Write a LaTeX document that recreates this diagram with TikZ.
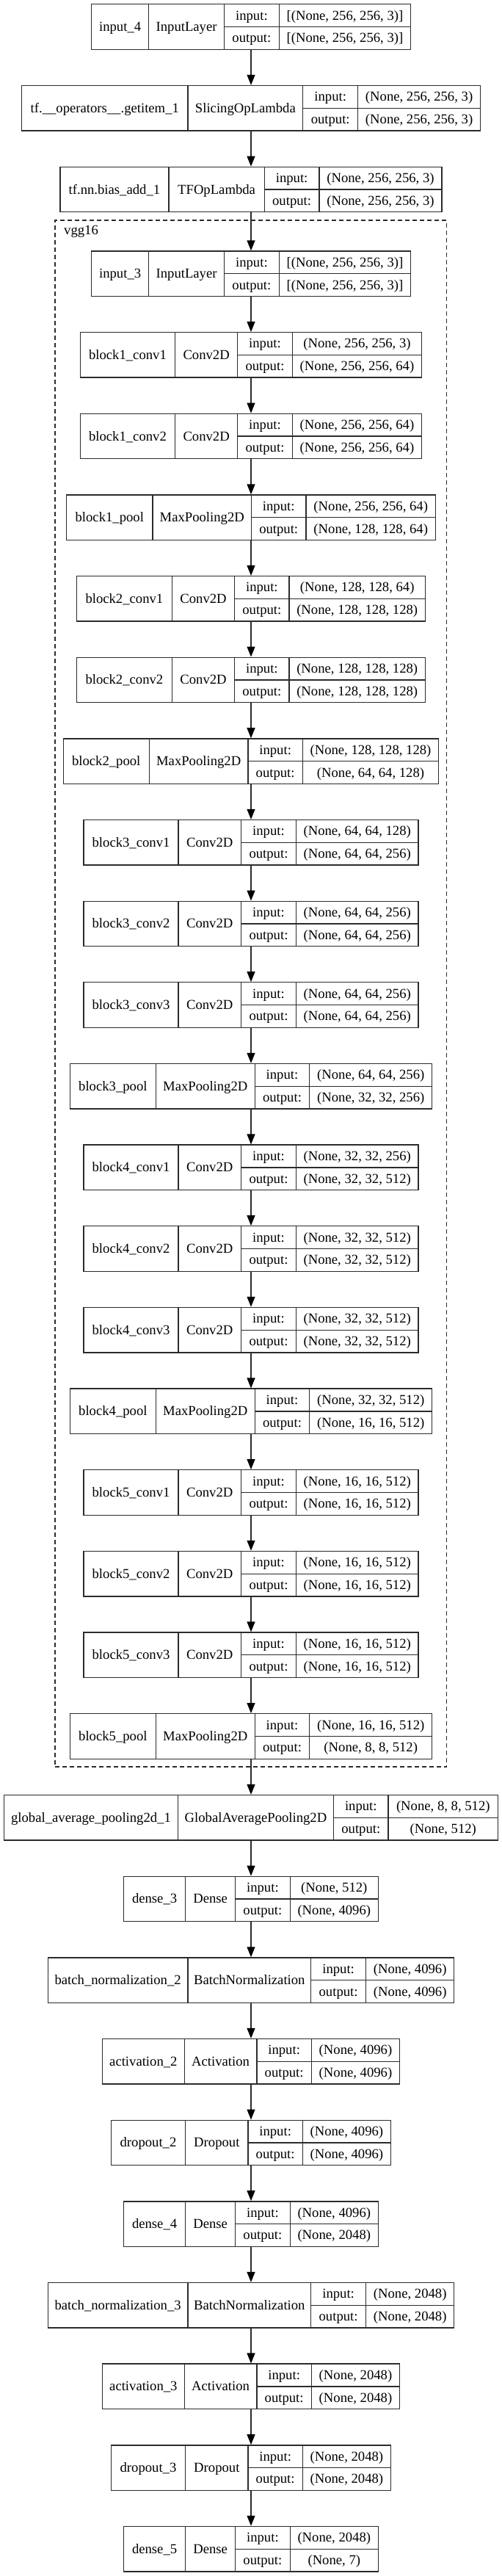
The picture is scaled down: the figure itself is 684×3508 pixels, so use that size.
\documentclass[tikz,border=0pt]{standalone}
\usepackage{fontspec}
\setmainfont{Liberation Serif}
\usetikzlibrary{arrows.meta,fit}
\definecolor{edgegray}{HTML}{2B2B2B}
\tikzset{
  rec/.style={draw=edgegray, line width=1.33pt, inner sep=0pt},
  cell/.style={draw=edgegray, line width=1.33pt},
  txt/.style={anchor=base, inner sep=0pt, font=\fontsize{18.67}{22}\selectfont},
  arr/.style={draw=edgegray, line width=1.33pt, -{Triangle[length=14pt,width=11pt,color=black]}},
  cluster/.style={draw=edgegray, line width=1.33pt, dash pattern=on 6pt off 4pt, inner sep=0pt},
}
\def\parsexs#1/#2/#3/#4/#5\relax{\def\xa{#1}\def\xb{#2}\def\xc{#3}\def\xd{#4}\def\xe{#5}}
\newcommand\layer[7]{%
  \parsexs#3\relax
  \pgfmathsetmacro\yt{#2}%
  \pgfmathsetmacro\yb{#2+61.5}%
  \pgfmathsetmacro\ym{#2+30.75}%
  \pgfmathsetmacro\ybf{#2+30.75+6}%
  \pgfmathsetmacro\ybu{#2+15.375+6}%
  \pgfmathsetmacro\ybl{#2+46.125+6}%
  \pgfmathsetmacro\ca{(\xa+\xb)/2}%
  \pgfmathsetmacro\cb{(\xb+\xc)/2}%
  \pgfmathsetmacro\cc{(\xc+\xd)/2}%
  \pgfmathsetmacro\cd{(\xd+\xe)/2}%
  \coordinate (#1-nw) at (\xa,\yt);
  \coordinate (#1-se) at (\xe,\yb);
  \node[rec, fit=(#1-nw)(#1-se)] (#1) {};
  \draw[cell] (\xb,\yt) -- (\xb,\yb) (\xc,\yt) -- (\xc,\yb) (\xd,\yt) -- (\xd,\yb) (\xc,\ym) -- (\xe,\ym);
  \node[txt] (#1-name) at (\ca,\ybf) {#4};
  \node[txt] (#1-class) at (\cb,\ybf) {#5};
  \node[txt] (#1-il) at (\cc,\ybu) {input:};
  \node[txt] (#1-ol) at (\cc,\ybl) {output:};
  \node[txt] (#1-iv) at (\cd,\ybu) {#6};
  \node[txt] (#1-ov) at (\cd,\ybl) {#7};
}
\begin{document}
\begin{tikzpicture}[x=1pt,y=-1pt]
\fill[white] (0,0) rectangle (684,3508);
\useasboundingbox (0,0) rectangle (684,3508);
% cluster
\coordinate (vgg-nw) at (75,300);
\coordinate (vgg-se) at (608.5,2406);
\node[cluster, fit=(vgg-nw)(vgg-se)] (vgg) {};
\node[txt, anchor=base west] (vgglabel) at (87,319.5) {vgg16};
% layers
\layer{input4}{5.7}{124.5/202.8/305.4/380.4/559.5}{input\_4}{InputLayer}{[(None, 256, 256, 3)]}{[(None, 256, 256, 3)]}
\layer{getitem}{116.5}{29.5/256.1/412.7/487.7/654.5}{tf.\_\_operators\_\_.getitem\_1}{SlicingOpLambda}{(None, 256, 256, 3)}{(None, 256, 256, 3)}
\layer{bias}{227.3}{82/229.9/360.3/434.9/602}{tf.nn.bias\_add\_1}{TFOpLambda}{(None, 256, 256, 3)}{(None, 256, 256, 3)}
\layer{input3}{342}{124.5/202.8/305.4/380.4/559.5}{input\_3}{InputLayer}{[(None, 256, 256, 3)]}{[(None, 256, 256, 3)]}
\layer{b1c1}{452.6}{109.3/238.6/323.7/398.3/574.7}{block1\_conv1}{Conv2D}{(None, 256, 256, 3)}{(None, 256, 256, 64)}
\layer{b1c2}{563.3}{109.3/238.6/323.7/398.3/574.7}{block1\_conv2}{Conv2D}{(None, 256, 256, 64)}{(None, 256, 256, 64)}
\layer{b1p}{674}{90.5/208.1/342.4/417.0/593.5}{block1\_pool}{MaxPooling2D}{(None, 256, 256, 64)}{(None, 128, 128, 64)}
\layer{b2c1}{784.6}{104.5/234.3/319.8/393.9/579.5}{block2\_conv1}{Conv2D}{(None, 128, 128, 64)}{(None, 128, 128, 128)}
\layer{b2c2}{895.2}{104.5/234.3/319.8/393.9/579.5}{block2\_conv2}{Conv2D}{(None, 128, 128, 128)}{(None, 128, 128, 128)}
\layer{b2p}{1005.9}{86.2/203.3/338.1/412.2/597.8}{block2\_pool}{MaxPooling2D}{(None, 128, 128, 128)}{(None, 64, 64, 128)}
\layer{b3c1}{1116.5}{114.1/243.0/328.5/403.5/569.9}{block3\_conv1}{Conv2D}{(None, 64, 64, 128)}{(None, 64, 64, 256)}
\layer{b3c2}{1227.2}{114.1/243.0/328.5/403.5/569.9}{block3\_conv2}{Conv2D}{(None, 64, 64, 256)}{(None, 64, 64, 256)}
\layer{b3c3}{1337.8}{114.1/243.0/328.5/403.5/569.9}{block3\_conv3}{Conv2D}{(None, 64, 64, 256)}{(None, 64, 64, 256)}
\layer{b3p}{1448.5}{95.3/212.4/347.2/421.8/588.7}{block3\_pool}{MaxPooling2D}{(None, 64, 64, 256)}{(None, 32, 32, 256)}
\layer{b4c1}{1559.1}{114.1/243.0/328.5/403.5/569.9}{block4\_conv1}{Conv2D}{(None, 32, 32, 256)}{(None, 32, 32, 512)}
\layer{b4c2}{1669.8}{114.1/243.0/328.5/403.5/569.9}{block4\_conv2}{Conv2D}{(None, 32, 32, 512)}{(None, 32, 32, 512)}
\layer{b4c3}{1780.4}{114.1/243.0/328.5/403.5/569.9}{block4\_conv3}{Conv2D}{(None, 32, 32, 512)}{(None, 32, 32, 512)}
\layer{b4p}{1891.1}{95.3/212.4/347.2/421.8/588.7}{block4\_pool}{MaxPooling2D}{(None, 32, 32, 512)}{(None, 16, 16, 512)}
\layer{b5c1}{2001.7}{114.1/243.0/328.5/403.5/569.9}{block5\_conv1}{Conv2D}{(None, 16, 16, 512)}{(None, 16, 16, 512)}
\layer{b5c2}{2112.4}{114.1/243.0/328.5/403.5/569.9}{block5\_conv2}{Conv2D}{(None, 16, 16, 512)}{(None, 16, 16, 512)}
\layer{b5c3}{2223}{114.1/243.0/328.5/403.5/569.9}{block5\_conv3}{Conv2D}{(None, 16, 16, 512)}{(None, 16, 16, 512)}
\layer{b5p}{2333.7}{95.3/212.4/347.2/421.8/588.7}{block5\_pool}{MaxPooling2D}{(None, 16, 16, 512)}{(None, 8, 8, 512)}
\layer{gap}{2444.5}{5.5/242.5/454.5/529.1/678.5}{global\_average\_pooling2d\_1}{GlobalAveragePooling2D}{(None, 8, 8, 512)}{(None, 512)}
\layer{dense3}{2555.2}{168.6/252.6/320.6/395.2/515.4}{dense\_3}{Dense}{(None, 512)}{(None, 4096)}
\layer{bn2}{2665.9}{65.2/256.1/423.6/498.6/618.8}{batch\_normalization\_2}{BatchNormalization}{(None, 4096)}{(None, 4096)}
\layer{act2}{2776.5}{139.4/251.3/349.9/424.4/544.6}{activation\_2}{Activation}{(None, 4096)}{(None, 4096)}
\layer{drop2}{2887.2}{151.4/252.6/338.1/412.2/532.6}{dropout\_2}{Dropout}{(None, 4096)}{(None, 4096)}
\layer{dense4}{2997.8}{168.6/252.6/320.6/395.2/515.4}{dense\_4}{Dense}{(None, 4096)}{(None, 2048)}
\layer{bn3}{3108.5}{65.2/256.1/423.6/498.6/618.8}{batch\_normalization\_3}{BatchNormalization}{(None, 2048)}{(None, 2048)}
\layer{act3}{3219.1}{139.4/251.3/349.9/424.4/544.6}{activation\_3}{Activation}{(None, 2048)}{(None, 2048)}
\layer{drop3}{3329.8}{151.4/252.6/338.1/412.2/532.6}{dropout\_3}{Dropout}{(None, 2048)}{(None, 2048)}
\layer{dense5}{3440.4}{168.6/252.6/320.6/395.2/515.4}{dense\_5}{Dense}{(None, 2048)}{(None, 7)}
% connectors
\foreach \a/\b in {input4/getitem, getitem/bias, bias/input3, input3/b1c1, b1c1/b1c2, b1c2/b1p, b1p/b2c1, b2c1/b2c2, b2c2/b2p, b2p/b3c1, b3c1/b3c2, b3c2/b3c3, b3c3/b3p, b3p/b4c1, b4c1/b4c2, b4c2/b4c3, b4c3/b4p, b4p/b5c1, b5c1/b5c2, b5c2/b5c3, b5c3/b5p, b5p/gap, gap/dense3, dense3/bn2, bn2/act2, act2/drop2, drop2/dense4, dense4/bn3, bn3/act3, act3/drop3, drop3/dense5}
  \draw[arr] (\a) -- (\b);
\end{tikzpicture}
\end{document}
